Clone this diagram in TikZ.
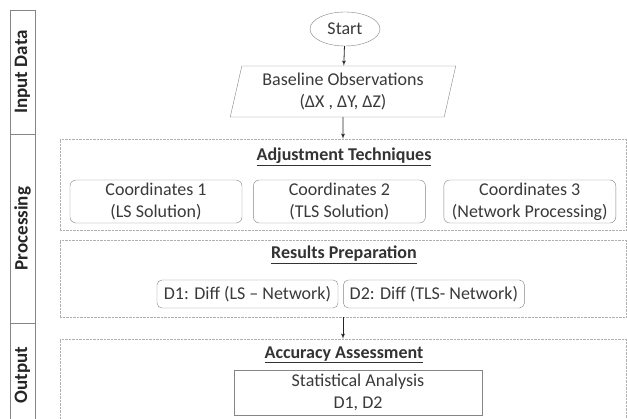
\documentclass[tikz,border=0pt]{standalone}
\usepackage{fontspec}
\setmainfont{Carlito}
\usepackage{tikz}
\usetikzlibrary{shapes,arrows}
\usetikzlibrary{positioning}
\usetikzlibrary{shapes.geometric}

\definecolor{txtgray}{HTML}{3A3A3A}
\definecolor{boxgray}{HTML}{858585}
\definecolor{dotgray}{HTML}{B0B0B0}

\tikzset{
  lane/.style={draw=boxgray, rotate=90, minimum height=25pt, inner sep=0pt,
    font=\fontsize{19}{22}\selectfont\bfseries, text=black!85},
  panel/.style={draw=dotgray, densely dotted, minimum width=566pt, inner sep=0pt},
  ptitle/.style={font=\fontsize{18}{22}\selectfont\bfseries, text=black!80},
  coordbox/.style={draw=boxgray, rounded corners=6pt, align=center,
    minimum width=172pt, minimum height=43pt, inner sep=1pt},
  diffbox/.style={draw=boxgray, rounded corners=5pt,
    minimum width=181pt, minimum height=28pt, inner sep=1pt},
  flow/.style={->, line width=0.8pt, black!85},
}

\begin{document}
\begin{tikzpicture}[x=1pt,y=-1pt,node distance=2em,>=latex',thin,
  font=\fontsize{18}{22}\selectfont, text=txtgray]
\useasboundingbox[fill=white] (0,0) rectangle (627,419);
% lanes on the left
\path node[lane, minimum width=124pt] (inlane) at (22.5,72) {Input Data};
\path node[lane, minimum width=189pt] (prolane) at (22.5,228.5) {Processing};
\path node[lane, minimum width=104pt] (outlane) at (22.5,375) {Output};
% input
\path node[ellipse, draw=boxgray, minimum width=70pt, minimum height=34pt, inner sep=0pt] (start) at (345,29) {Start};
\path node[trapezium, trapezium left angle=76, trapezium right angle=104, trapezium stretches=true,
  draw=boxgray, align=center, minimum width=226pt, minimum height=51pt, inner sep=0pt] (base) at (343,91.5)
  {Baseline Observations\\(ΔX , ΔY, ΔZ)};
\path[flow] (start) edge (base);
% processing
\path node[panel, minimum height=91pt] (adjust) at (343,184.5) {};
\path[flow] (base) edge (adjust);
\path node[ptitle] (adjt) at (344,157) {\underline{Adjustment Techniques}};
\path node[coordbox] (c1) at (156,201.5) {Coordinates 1\\(LS Solution)};
\path node[coordbox, right=11pt of c1] (c2) {Coordinates 2\\(TLS Solution)};
\path node[coordbox, right=18pt of c2] (c3) {Coordinates 3\\(Network Processing)};
\path node[panel, minimum height=77pt] (results) at (343,278.5) {};
\path node[ptitle] (rest) at (344,255) {\underline{Results Preparation}};
\path node[diffbox] (d1) at (247.5,294) {D1: Diff (LS -- Network)};
\path node[diffbox, right=5pt of d1] (d2) {D2: Diff (TLS- Network)};
% output
\path node[panel, minimum height=91pt] (accuracy) at (343,384.5) {};
\path[flow] (results) edge (accuracy);
\path node[ptitle] (acct) at (344,355) {\underline{Accuracy Assessment}};
\path node[draw=boxgray, align=center, minimum width=248pt, minimum height=45pt, inner sep=0pt] (stat) at (358,392.5)
  {Statistical Analysis\\D1, D2};
\end{tikzpicture}
\end{document}
